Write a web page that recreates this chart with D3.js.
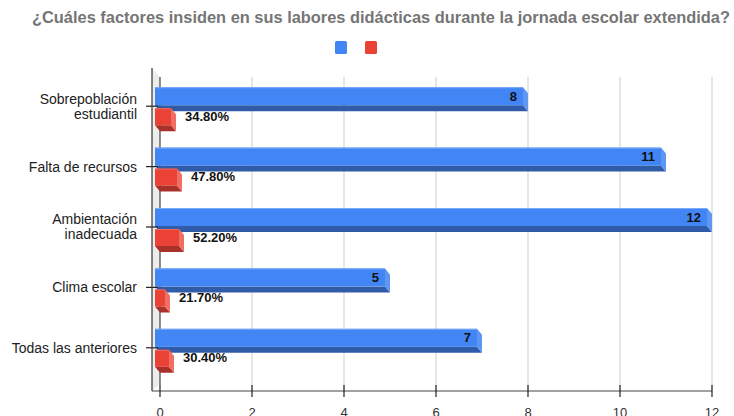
<!DOCTYPE html>
<html>
<head>
<meta charset="utf-8">
<script src="https://cdn.jsdelivr.net/npm/d3@7"></script>
<style>
  html, body { margin: 0; padding: 0; background: #fff; }
  svg { display: block; font-family: "Liberation Sans", Arial, sans-serif; }
</style>
</head>
<body>
<div id="chart"></div>
<script>
const title = "¿Cuáles factores insiden en sus labores didácticas durante la jornada escolar extendida?";
const categories = ["Sobrepoblación estudiantil", "Falta de recursos", "Ambientación inadecuada", "Clima escolar", "Todas las anteriores"];
const counts = [8, 11, 12, 5, 7];
const shares = [0.348, 0.478, 0.522, 0.217, 0.304];
const xTicks = [0, 2, 4, 6, 8, 10, 12];

const width = 734, height = 416;
const dx = 5, dy = 6; // bar depth

const svg = d3.select("#chart").append("svg")
    .attr("width", width)
    .attr("height", height);

const x = d3.scaleLinear().domain([0, 12]).range([160, 712]);
const y = d3.scaleBand().domain(categories).range([76, 378]);
const pct = d3.format(".2%");

// title + legend
svg.append("text")
    .attr("x", 381)
    .attr("y", 23)
    .attr("text-anchor", "middle")
    .attr("font-size", "16px")
    .attr("font-weight", "bold")
    .attr("fill", "#757575")
    .attr("textLength", 698)
    .attr("lengthAdjust", "spacingAndGlyphs")
    .text(title);

svg.selectAll("rect.legend")
    .data(["#4285f4", "#ea4335"])
    .enter()
    .append("rect")
    .attr("class", "legend")
    .attr("x", (d, i) => 335 + i * 30)
    .attr("y", 41)
    .attr("width", 12)
    .attr("height", 13)
    .attr("rx", 1.5)
    .attr("fill", d => d);

// side wall
svg.append("polygon")
    .attr("points", "152,68 160,77 160,384 152,391")
    .attr("fill", "#ececec");

// gridlines
svg.selectAll("line.grid")
    .data(xTicks.filter(d => d > 0))
    .enter()
    .append("line")
    .attr("x1", d => x(d))
    .attr("x2", d => x(d))
    .attr("y1", 77)
    .attr("y2", 391)
    .attr("stroke", "#d6d6d6")
    .attr("stroke-width", 1.2);

svg.append("line")
    .attr("x1", x(0)).attr("x2", x(0))
    .attr("y1", 77).attr("y2", 385)
    .attr("stroke", "#444")
    .attr("stroke-width", 1.2);

// bars
function bar3d(g, v, top, h, col) {
    const x0 = x(0) - dx, x1 = x(v) - dx;
    g.append("polygon")
        .attr("points", [[x0, top + h], [x1, top + h], [x1 + dx, top + h + dy], [x0 + dx, top + h + dy]].join(" "))
        .attr("fill", col.bottom);
    g.append("polygon")
        .attr("points", [[x1, top], [x1 + dx, top + dy], [x1 + dx, top + h + dy], [x1, top + h]].join(" "))
        .attr("fill", col.side);
    g.append("rect")
        .attr("x", x0)
        .attr("y", top)
        .attr("width", x1 - x0)
        .attr("height", h)
        .attr("fill", col.face);
    g.append("line")
        .attr("x1", x0).attr("x2", x1)
        .attr("y1", top + 0.5).attr("y2", top + 0.5)
        .attr("stroke", col.edge)
        .attr("stroke-width", 1);
}

const blue = { face: "#4285f4", bottom: "#2f5ba9", side: "#5e97f2", edge: "#7aa9f7" };
const red = { face: "#ea4335", bottom: "#a8322a", side: "#f06e63", edge: "#ef6b60" };

categories.forEach((cat, i) => {
    const c = y(cat) + y.bandwidth() / 2;
    const g = svg.append("g");
    bar3d(g, counts[i], c - 19, 18, blue);
    bar3d(g, shares[i], c + 2, 17, red);

    g.append("text")
        .attr("x", x(counts[i]) - dx - 6)
        .attr("y", c - 10)
        .attr("dy", "0.35em")
        .attr("text-anchor", "end")
        .attr("font-size", "13px")
        .attr("font-weight", "bold")
        .attr("fill", "#111")
        .text(counts[i]);

    g.append("text")
        .attr("x", x(shares[i]) + 9)
        .attr("y", c + 10)
        .attr("dy", "0.35em")
        .attr("font-size", "13px")
        .attr("font-weight", "bold")
        .attr("fill", "#111")
        .text(pct(shares[i]));

    // category label (wrap long names)
    let lines = [cat];
    if (cat.length > 20) {
        const k = cat.lastIndexOf(" ");
        lines = [cat.slice(0, k), cat.slice(k + 1)];
    }
    const t = svg.append("text")
        .attr("text-anchor", "end")
        .attr("font-size", "14px")
        .attr("fill", "#222");
    lines.forEach((ln, j) => {
        t.append("tspan")
            .attr("x", 137)
            .attr("y", c + (j - (lines.length - 1) / 2) * 15)
            .attr("dy", "0.35em")
            .text(ln);
    });

    svg.append("line")
        .attr("x1", 146).attr("x2", 158)
        .attr("y1", c).attr("y2", c)
        .attr("stroke", "#222")
        .attr("stroke-width", 1.2);
});

// axes lines
svg.append("line")
    .attr("x1", 152).attr("x2", 152)
    .attr("y1", 68).attr("y2", 391)
    .attr("stroke", "#333")
    .attr("stroke-width", 1.2);

svg.append("line")
    .attr("x1", 152).attr("x2", 712)
    .attr("y1", 391).attr("y2", 391)
    .attr("stroke", "#444")
    .attr("stroke-width", 1.2);

svg.selectAll("line.xtick")
    .data(xTicks)
    .enter()
    .append("line")
    .attr("x1", d => x(d))
    .attr("x2", d => x(d))
    .attr("y1", 385)
    .attr("y2", 397)
    .attr("stroke", "#222")
    .attr("stroke-width", 1.2);

svg.selectAll("text.xlab")
    .data(xTicks)
    .enter()
    .append("text")
    .attr("x", d => x(d))
    .attr("y", 417)
    .attr("text-anchor", "middle")
    .attr("font-size", "13px")
    .attr("fill", "#333")
    .text(d => d);
</script>
</body>
</html>
